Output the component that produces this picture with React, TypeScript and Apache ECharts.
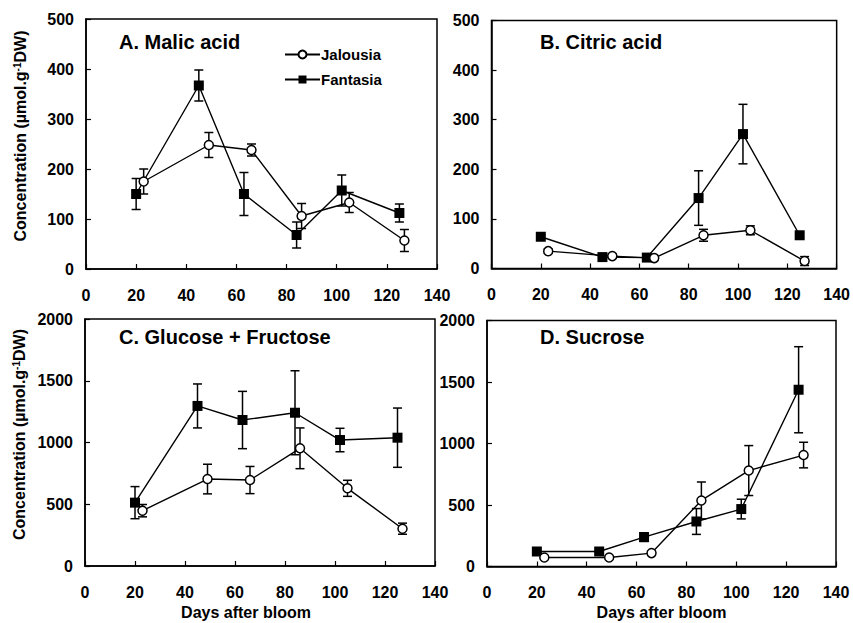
import React, { useEffect, useRef } from "react";
import * as echarts from "echarts";

const daysJalousia = [23, 49, 66, 86, 105, 127];
const daysFantasia = [20, 45, 63, 84, 102, 125];

const malicJalousia = [175, 248, 238, 106, 133, 57];
const malicJalousiaErr = [25, 25, 12, 25, 20, 22];
const malicFantasia = [150, 367, 150, 68, 157, 112];
const malicFantasiaErr = [31, 31, 43, 26, 31, 18];

const citricJalousia = [35, 25, 21, 67, 77, 15];
const citricJalousiaErr = [4, 4, 3, 12, 9, 9];
const citricFantasia = [64, 23, 22, 142, 271, 67];
const citricFantasiaErr = [4, 4, 3, 55, 60, 4];

const glufruJalousia = [448, 704, 696, 953, 629, 302];
const glufruJalousiaErr = [50, 120, 110, 165, 65, 45];
const glufruFantasia = [513, 1296, 1182, 1241, 1020, 1039];
const glufruFantasiaErr = [130, 178, 232, 340, 95, 240];

const sucroseJalousia = [73, 73, 109, 537, 780, 906];
const sucroseJalousiaErr = [8, 8, 8, 150, 203, 104];
const sucroseFantasia = [122, 122, 239, 366, 467, 1437];
const sucroseFantasiaErr = [8, 8, 35, 105, 80, 350];

const panelTitles = ["A. Malic acid", "B. Citric acid", "C. Glucose + Fructose", "D. Sucrose"];
const yMax = [500, 500, 2000, 2000];
const yStep = [100, 100, 500, 500];
const xTitle = "Days after bloom";

const FONT = "'Liberation Sans', Arial, sans-serif";

const grids = [
  { left: 86, top: 19, width: 351, height: 250 },
  { left: 491.5, top: 20.5, width: 347.5, height: 248 },
  { left: 85, top: 319, width: 350, height: 247 },
  { left: 487, top: 320.5, width: 349, height: 246 },
];

const titlePos = [
  { x: 119, y: 43 },
  { x: 540, y: 43 },
  { x: 119, y: 338 },
  { x: 540, y: 338 },
];

function errData(days: number[], vals: number[], errs: number[]) {
  return days.map((d, i) => [d, vals[i] - errs[i], vals[i] + errs[i]]);
}
function lineData(days: number[], vals: number[]) {
  return days.map((d, i) => [d, vals[i]]);
}

const errRender = (params: any, api: any) => {
  const x = api.value(0);
  const lo = api.value(1);
  const hi = api.value(2);
  const pHi = api.coord([x, hi]);
  const pLo = api.coord([x, lo]);
  const cap = 4.5;
  const st = { stroke: "#000", lineWidth: 1.5 };
  return {
    type: "group",
    children: [
      { type: "line", shape: { x1: pHi[0], y1: pHi[1], x2: pLo[0], y2: pLo[1] }, style: st },
      { type: "line", shape: { x1: pHi[0] - cap, y1: pHi[1], x2: pHi[0] + cap, y2: pHi[1] }, style: st },
      { type: "line", shape: { x1: pLo[0] - cap, y1: pLo[1], x2: pLo[0] + cap, y2: pLo[1] }, style: st },
    ],
  };
};

export default function App() {
  const ref = useRef<HTMLDivElement>(null);
  useEffect(() => {
    document.body.style.margin = "0";
    const chart = echarts.init(ref.current!, undefined, { renderer: "svg" });
    const panels = [
      [malicJalousia, malicJalousiaErr, malicFantasia, malicFantasiaErr],
      [citricJalousia, citricJalousiaErr, citricFantasia, citricFantasiaErr],
      [glufruJalousia, glufruJalousiaErr, glufruFantasia, glufruFantasiaErr],
      [sucroseJalousia, sucroseJalousiaErr, sucroseFantasia, sucroseFantasiaErr],
    ];
    const series: any[] = [];
    panels.forEach((p, i) => {
      series.push({
        type: "custom",
        name: "errJ" + i,
        xAxisIndex: i,
        yAxisIndex: i,
        renderItem: errRender,
        data: errData(daysJalousia, p[0], p[1]),
        encode: { x: 0, y: [1, 2] },
        z: 1,
        silent: true,
      });
      series.push({
        type: "custom",
        name: "errF" + i,
        xAxisIndex: i,
        yAxisIndex: i,
        renderItem: errRender,
        data: errData(daysFantasia, p[2], p[3]),
        encode: { x: 0, y: [1, 2] },
        z: 1,
        silent: true,
      });
      series.push({
        type: "line",
        name: "Jalousia",
        xAxisIndex: i,
        yAxisIndex: i,
        data: lineData(daysJalousia, p[0]),
        symbol: "circle",
        symbolSize: 9,
        showAllSymbol: true,
        lineStyle: { color: "#000", width: 1.4 },
        itemStyle: { color: "#fff", borderColor: "#000", borderWidth: 1.5 },
        z: 3,
      });
      series.push({
        type: "line",
        name: "Fantasia",
        xAxisIndex: i,
        yAxisIndex: i,
        data: lineData(daysFantasia, p[2]),
        symbol: "rect",
        symbolSize: 10,
        showAllSymbol: true,
        lineStyle: { color: "#000", width: 1.4 },
        itemStyle: { color: "#000", borderColor: "#000", borderWidth: 0 },
        z: 2,
      });
    });

    const axisLabel = { color: "#000", fontFamily: FONT, fontWeight: "bold", fontSize: 16 };
    const xAxes = grids.map((_, i) => ({
      type: "value",
      gridIndex: i,
      min: 0,
      max: 140,
      interval: 20,
      splitLine: { show: false },
      axisLine: { show: true, onZero: false, lineStyle: { color: "#000", width: 1.5 } },
      axisTick: { show: true, inside: true, length: 5, lineStyle: { color: "#000", width: 1.2 } },
      axisLabel: { ...axisLabel, margin: 18, showMinLabel: true, showMaxLabel: true, formatter: (v: number) => String(v) },
      name: i >= 2 ? xTitle : "",
      nameLocation: "middle",
      nameGap: 38,
      nameTextStyle: {
        color: "#000",
        fontFamily: FONT,
        fontWeight: "bold",
        fontSize: 16,
        padding: i === 2 ? [0, 28, 0, 0] : 0,
      },
    }));
    const yAxes = grids.map((_, i) => ({
      type: "value",
      gridIndex: i,
      min: 0,
      max: yMax[i],
      interval: yStep[i],
      splitLine: { show: false },
      axisLine: { show: true, lineStyle: { color: "#000", width: 1.5 } },
      axisTick: { show: true, inside: true, length: 5, lineStyle: { color: "#000", width: 1.2 } },
      axisLabel: { ...axisLabel, margin: 12, formatter: (v: number) => String(v) },
      name: i === 0 || i === 2 ? "{a|Concentration (µmol.g}{s|-1}{a|DW)}" : "",
      nameLocation: "middle",
      nameRotate: 90,
      nameGap: 58,
      nameTextStyle: {
        color: "#000",
        fontFamily: FONT,
        fontWeight: "bold",
        fontSize: 16,
        padding: [0, 0, 0, 16],
        rich: {
          a: { color: "#000", fontFamily: FONT, fontWeight: "bold", fontSize: 16 },
          s: { color: "#000", fontFamily: FONT, fontWeight: "bold", fontSize: 10, verticalAlign: "top" },
        },
      },
    }));

    chart.setOption({
      animation: false,
      backgroundColor: "#fff",
      grid: grids.map((g) => ({ ...g, show: true, borderColor: "#000", borderWidth: 1.5, backgroundColor: "transparent" })),
      xAxis: xAxes,
      yAxis: yAxes,
      legend: {
        data: ["Jalousia", "Fantasia"],
        orient: "vertical",
        left: 279,
        top: 42,
        itemWidth: 35,
        itemHeight: 10,
        itemGap: 10,
        textStyle: { color: "#000", fontFamily: FONT, fontWeight: "bold", fontSize: 15, padding: [0, 0, 0, -4] },
        selectedMode: false,
      },
      graphic: panelTitles.map((t, i) => ({
        type: "text",
        left: titlePos[i].x,
        top: titlePos[i].y - 11,
        style: { text: t, fill: "#000", font: `bold 20px ${FONT}` },
      })),
      series,
    });
    return () => chart.dispose();
  }, []);
  return <div ref={ref} style={{ width: 853, height: 623 }} />;
}
